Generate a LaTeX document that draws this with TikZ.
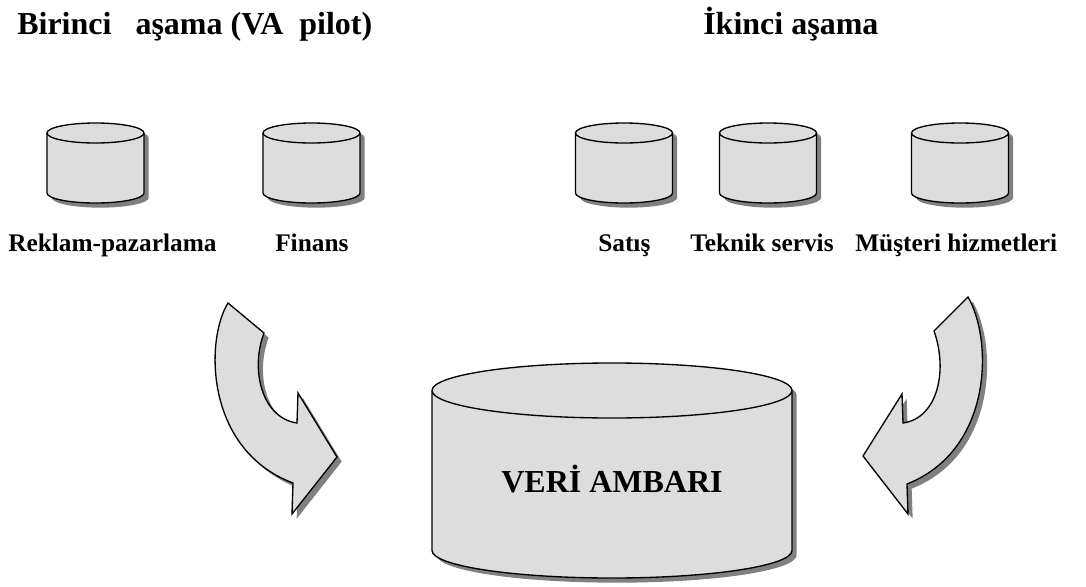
\documentclass[tikz,border=0pt]{standalone}
\usepackage{fontspec}
\setmainfont{Liberation Serif}
\usetikzlibrary{shadows}
\definecolor{dbfill}{HTML}{DDDDDD}
\definecolor{dbshadow}{HTML}{808080}

\begin{document}
\begin{tikzpicture}[x=0.75pt,y=0.75pt,
  db/.style={draw,line width=1pt,fill=dbfill,drop shadow={shadow xshift=3.5pt,shadow yshift=-3.5pt,fill=dbshadow,opacity=1}},
  head/.style={font=\fontsize{24}{28}\selectfont\bfseries,inner sep=0pt},
  lbl/.style={font=\fontsize{19}{23}\selectfont\bfseries,inner sep=0pt}]
\useasboundingbox (0,0) rectangle (1086,-586);

% stage titles
\node[head,anchor=base west] (stage1) at (17,-34) {Birinci~~~aşama (VA~~pilot)};
\node[head,anchor=base west] (stage2) at (703,-34) {İkinci aşama};

% small databases
\foreach \cx/\nm in {95.5/reklam,311.5/finans,624/satis,768/teknik,960/musteri}{
  \draw[db] (\cx-48.5,-133) -- (\cx-48.5,-193) arc (180:360:48.5 and 10) -- (\cx+48.5,-133) arc (0:180:48.5 and 10) -- cycle;
  \draw[line width=1pt] (\cx-48.5,-133) arc (180:360:48.5 and 10);
  \coordinate (db-\nm) at (\cx,-163);
}

\node[lbl,anchor=base west] (l-reklam) at (8,-251) {Reklam-pazarlama};
\node[lbl,anchor=base west] (l-finans) at (275,-251) {Finans};
\node[lbl,anchor=base west] (l-satis) at (598,-251) {Satış};
\node[lbl,anchor=base west] (l-teknik) at (690,-251) {Teknik servis};
\node[lbl,anchor=base west] (l-musteri) at (855,-251) {Müşteri hizmetleri};

% the warehouse
\draw[db] (432,-390.5) -- (432,-550.5) arc (180:360:180 and 27.5) -- (792,-390.5) arc (0:180:180 and 27.5) -- cycle;
\draw[line width=1pt] (432,-390.5) arc (180:360:180 and 27.5);
\node[head,anchor=base] (ambar) at (612,-492) {VERİ AMBARI};

% curved block arrows
\draw[db] (228,-303) .. controls (205,-340) and (205,-450) .. (293,-483) -- (292,-514) -- (337,-457) -- (298,-393) -- (297,-423) .. controls (262,-418) and (250,-370) .. (264,-333) -- cycle;
\draw[db] (968,-297) .. controls (993,-340) and (993,-450) .. (907,-484) -- (908,-514) -- (863,-456) -- (902,-394) -- (903,-423) .. controls (938,-418) and (948,-370) .. (934,-331) -- cycle;

\end{tikzpicture}
\end{document}
